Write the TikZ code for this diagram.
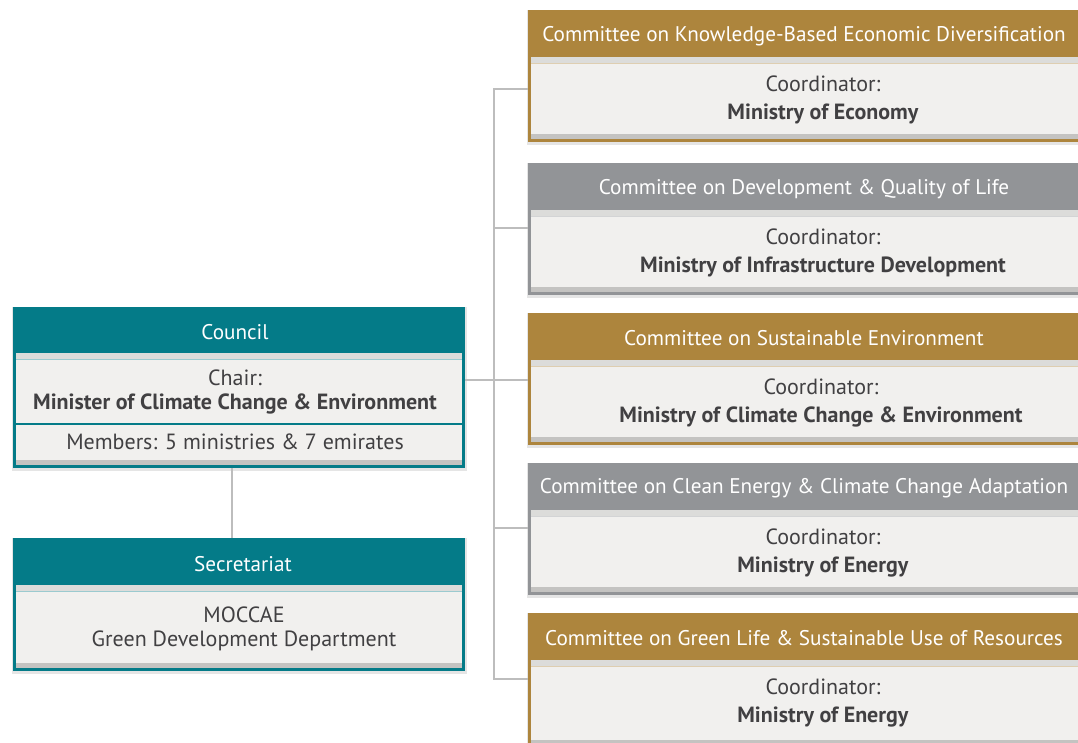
\documentclass[tikz,border=0pt]{standalone}
\usepackage{fontspec}
\setmainfont{PT Sans}
\usetikzlibrary{calc}
\definecolor{cteal}{HTML}{047B88}
\definecolor{cgold}{HTML}{AD853D}
\definecolor{cgray}{HTML}{929497}
\definecolor{cpanel}{HTML}{F1F0EE}
\definecolor{cband}{HTML}{DCDCDA}
\definecolor{cbandd}{HTML}{C4C3C1}
\definecolor{cline}{HTML}{BDBDBD}
\definecolor{ctext}{HTML}{414042}
\tikzset{
  conn/.style={draw=cline, line width=2.3pt, line join=miter},
  hdr/.style={text=white, font=\fontsize{21.2}{24}\selectfont, inner sep=0},
  body/.style={text=ctext, font=\fontsize{22}{24}\selectfont, inner sep=0, align=center},
  cbody/.style={body, font=\fontsize{22}{28.5}\selectfont},
  boxnode/.style={inner sep=0, outer sep=0, anchor=north west},
}
\newcommand\orgbox[7]{% name, colour, xl, yt, xr, yb, header height
  \fill[black,opacity=.10] (#3-1.5,#4-0.5) rectangle (#5+2,#6+2.5);
  \node[boxnode, fill=#2, minimum width={#5-#3}, minimum height={#6-#4}] (#1) at (#3,#4) {};
  \fill[cpanel] ($(#1.north west)+(3,#7)$) rectangle ($(#1.south east)+(-3,-3)$);
  \fill[cband] ($(#1.north west)+(3,#7)$) rectangle ($(#1.north east)+(-3,#7+6)$);
  \draw[#2!40, line width=0.9pt] ($(#1.north west)+(3,#7+6)$) -- ($(#1.north east)+(-3,#7+6)$);
  \fill[cbandd] ($(#1.south west)+(3,-8)$) rectangle ($(#1.south east)+(-3,-3)$);
}
\begin{document}
\begin{tikzpicture}[x=1pt,y=-1pt]
\useasboundingbox (0,0) rectangle (1078,742);
\clip (0,0) rectangle (1078,742);
% connector anchors
\coordinate (t1) at (494,89);
\coordinate (t2) at (494,228);
\coordinate (t3) at (494,380);
\coordinate (t4) at (494,528);
\coordinate (t5) at (494,679);
\coordinate (cv) at (232,0);
% boxes
\orgbox{council}{cteal}{13}{307}{465}{468}{46}
\orgbox{secr}{cteal}{13}{538}{465}{671}{47}
\orgbox{com1}{cgold}{528}{10}{1084}{142}{47}
\orgbox{com2}{cgray}{528}{163}{1084}{295}{47}
\orgbox{com3}{cgold}{528}{313}{1084}{445}{47}
\orgbox{com4}{cgray}{528}{463}{1084}{595}{47}
\orgbox{com5}{cgold}{528}{613}{1084}{748}{47}
% connectors
\draw[conn] (t1 -| com1.west) -- (t1) -- (t5) -- (t5 -| com5.west);
\draw[conn] (t2) -- (t2 -| com2.west);
\draw[conn] (t4) -- (t4 -| com4.west);
\draw[conn] (council.east |- t3) -- (t3 -| com3.west);
\draw[conn] (council.south -| cv) -- (secr.north -| cv);
% council
\draw[cteal, line width=1.6pt] (16,424) -- (462,424);
\node[hdr] (councilT) at (235,332) {Council};
\node[body] (chair) at (235,392) {Chair:\\\textbf{Minister of Climate Change \& Environment}};
\node[body] (members) at (235,442) {Members: 5 ministries \& 7 emirates};
% secretariat
\node[hdr] (secrT) at (243,564) {Secretariat};
\node[body] (secrB) at (244,629) {MOCCAE\\Green Development Department};
% committees
\node[hdr] (c1T) at (804,36) {Committee on Knowledge-Based Economic Diversification};
\node[cbody] (c1B) at (823,100) {Coordinator:\\\textbf{Ministry of Economy}};
\node[hdr] (c2T) at (804,189) {Committee on Development \& Quality of Life};
\node[cbody] (c2B) at (823,253) {Coordinator:\\\textbf{Ministry of Infrastructure Development}};
\node[hdr] (c3T) at (804,338) {Committee on Sustainable Environment};
\node[cbody] (c3B) at (821,403) {Coordinator:\\\textbf{Ministry of Climate Change \& Environment}};
\node[hdr] (c4T) at (804,488) {Committee on Clean Energy \& Climate Change Adaptation};
\node[cbody] (c4B) at (823,553) {Coordinator:\\\textbf{Ministry of Energy}};
\node[hdr] (c5T) at (804,638) {Committee on Green Life \& Sustainable Use of Resources};
\node[cbody] (c5B) at (823,703) {Coordinator:\\\textbf{Ministry of Energy}};
\end{tikzpicture}
\end{document}
